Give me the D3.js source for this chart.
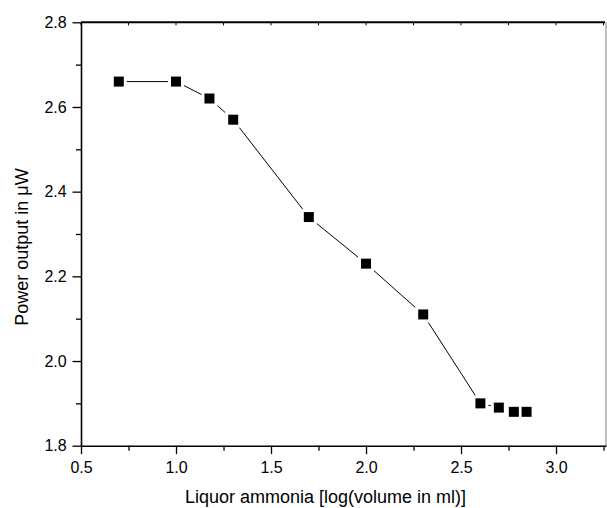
<!DOCTYPE html>
<html>
<head>
<meta charset="utf-8">
<script src="https://cdn.jsdelivr.net/npm/d3@7"></script>
<style>
  body { margin: 0; background: #fff; }
  svg { display: block; font-family: "Liberation Sans", Arial, sans-serif; }
</style>
</head>
<body>
<svg id="chart" width="607" height="508"></svg>
<script>
// log(volume in ml) and measured power
const logVolume = [0.699, 1.0, 1.176, 1.301, 1.699, 2.0, 2.301, 2.602, 2.699, 2.778, 2.845];
const powerOut = [2.66, 2.66, 2.62, 2.57, 2.34, 2.23, 2.11, 1.90, 1.89, 1.88, 1.88];

const xTicks = [0.5, 1.0, 1.5, 2.0, 2.5, 3.0];
const yTicks = [1.8, 2.0, 2.2, 2.4, 2.6, 2.8];

const svg = d3.select("#chart");

const plotL = 81, plotR = 606, plotT = 22.3, plotB = 445.7;

const x = d3.scaleLinear().domain([0.5, 3.263]).range([plotL, plotR]);
const y = d3.scaleLinear().domain([1.8, 2.8]).range([plotB, plotT]);

// right frame edge (grey)
svg.append("line")
  .attr("x1", plotR).attr("x2", plotR)
  .attr("y1", plotT).attr("y2", plotB)
  .style("stroke", "#aaa").style("stroke-width", 1.5);

// top axis, ticks inward
const xMinor = d3.range(0.75, 3.26, 0.5);
const topAxis = svg.append("g");
topAxis.append("line")
  .attr("x1", plotL).attr("x2", plotR - 1)
  .attr("y1", plotT).attr("y2", plotT)
  .style("stroke", "#000").style("stroke-width", 2);
topAxis.selectAll("line.t")
  .data(xTicks.concat(xMinor))
  .join("line")
  .attr("class", "t")
  .attr("x1", d => x(d)).attr("x2", d => x(d))
  .attr("y1", plotT).attr("y2", plotT + 3)
  .style("stroke", "#000").style("stroke-width", 1);

// bottom axis
const xAxis = svg.append("g")
  .attr("transform", `translate(0,${plotB})`)
  .call(d3.axisBottom(x).tickValues(xTicks).tickFormat(d3.format(".1f")).tickSize(8.5).tickSizeOuter(0));
svg.append("g")
  .attr("transform", `translate(0,${plotB})`)
  .call(d3.axisBottom(x).tickValues(xMinor).tickFormat("").tickSize(5).tickSizeOuter(0))
  .select(".domain").remove();

// left axis
const yMinor = d3.range(1.9, 2.8, 0.2);
const yAxis = svg.append("g")
  .attr("transform", `translate(${plotL},0)`)
  .call(d3.axisLeft(y).tickValues(yTicks).tickFormat(d3.format(".1f")).tickSize(8.5).tickSizeOuter(0));
svg.append("g")
  .attr("transform", `translate(${plotL},0)`)
  .call(d3.axisLeft(y).tickValues(yMinor).tickFormat("").tickSize(5).tickSizeOuter(0))
  .select(".domain").remove();

svg.selectAll(".domain").style("stroke", "#000").style("stroke-width", 1.6);
svg.selectAll(".tick line").style("stroke", "#000").style("stroke-width", 1.3);
xAxis.attr("font-family", null).attr("font-size", null);
yAxis.attr("font-family", null).attr("font-size", null);
xAxis.selectAll(".tick text")
  .attr("y", 27.6).attr("dy", null)
  .style("font-size", "16px").style("fill", "#000");
yAxis.selectAll(".tick text")
  .attr("x", -14.3)
  .style("font-size", "16px").style("fill", "#000");

// axis titles
svg.append("text")
  .attr("x", 185).attr("y", 503)
  .attr("text-anchor", "start")
  .style("font-size", "18px")
  .text("Liquor ammonia [log(volume in ml)]");

svg.append("text")
  .attr("transform", `translate(28,247) rotate(-90)`)
  .attr("text-anchor", "middle")
  .style("font-size", "18px")
  .text("Power output in μW");

// series
const pts = logVolume.map((v, i) => ({ x: v, y: powerOut[i] }));

svg.append("path")
  .datum(pts)
  .attr("d", d3.line().x(d => x(d.x)).y(d => y(d.y)))
  .style("fill", "none")
  .style("stroke", "#000")
  .style("stroke-width", 1);

// white halo to leave gaps where the line meets the markers
svg.selectAll("rect.halo")
  .data(pts)
  .join("rect")
  .attr("class", "halo")
  .attr("x", d => x(d.x) - 8).attr("y", d => y(d.y) - 8)
  .attr("width", 16).attr("height", 16)
  .style("fill", "#fff");

svg.selectAll("rect.mark")
  .data(pts)
  .join("rect")
  .attr("class", "mark")
  .attr("x", d => x(d.x) - 5).attr("y", d => y(d.y) - 5)
  .attr("width", 10).attr("height", 10)
  .style("fill", "#000");
</script>
</body>
</html>
